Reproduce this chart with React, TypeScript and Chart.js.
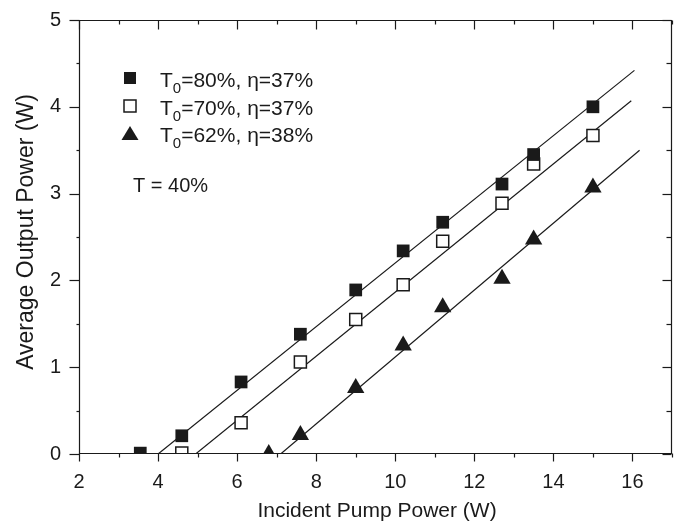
import React, { useEffect, useRef } from 'react';
import { Chart, registerables } from 'chart.js';

Chart.register(...registerables);

// ---- Data ----
const pump80 = [3.55, 4.6, 6.1, 7.6, 9.0, 10.2, 11.2, 12.7, 13.5, 15.0];
const out80 = [0.01, 0.21, 0.83, 1.38, 1.89, 2.34, 2.67, 3.11, 3.45, 4.0];
const pump70 = [4.6, 6.1, 7.6, 9.0, 10.2, 11.2, 12.7, 13.5, 15.0];
const out70 = [0.01, 0.36, 1.06, 1.55, 1.95, 2.45, 2.89, 3.34, 3.67];
const pump62 = [6.8, 7.6, 9.0, 10.2, 11.2, 12.7, 13.5, 15.0];
const out62 = [0.0, 0.22, 0.76, 1.25, 1.69, 2.02, 2.47, 3.07];

const fit80X = [4.0, 16.05];
const fit80Y = [0, 4.42];
const fit70X = [4.95, 15.97];
const fit70Y = [0, 4.07];
const fit62X = [7.1, 16.18];
const fit62Y = [0, 3.5];

const legendT0 = ['80%', '70%', '62%'];
const legendEta = ['37%', '37%', '38%'];
const noteText = 'T = 40%';
const xTitle = 'Incident Pump Power (W)';
const yTitle = 'Average Output Power (W)';
const xMin = 2;
const xMax = 17;
const yMin = 0;
const yMax = 5;

const FONT = '"Liberation Sans", Arial, Helvetica, sans-serif';
const INK = '#1a1a1a';

const toPts = (xs: number[], ys: number[]) => xs.map((x, i) => ({ x, y: ys[i] }));

const decorPlugin = {
  id: 'decor',
  afterDraw(chart: any) {
    const { ctx, chartArea: a, scales } = chart;
    const xs = scales.x;
    const ys = scales.y;
    ctx.save();
    ctx.strokeStyle = INK;
    ctx.lineWidth = 1.2;
    const L = Math.round(a.left) + 0.5;
    const R = Math.round(a.right) - 0.5;
    const T = Math.round(a.top) + 0.5;
    const B = Math.round(a.bottom) - 0.5;
    ctx.beginPath();
    ctx.rect(L, T, R - L, B - T);
    ctx.stroke();
    const seg = (x1: number, y1: number, x2: number, y2: number) => {
      ctx.beginPath();
      ctx.moveTo(x1, y1);
      ctx.lineTo(x2, y2);
      ctx.stroke();
    };
    for (let v = xMin; v <= xMax; v += 1) {
      const px = Math.round(xs.getPixelForValue(v)) + 0.5;
      const major = v % 2 === 0;
      seg(px, B, px, B + (major ? 8 : 4));
      seg(px, T, px, T + (major ? 9 : 4));
    }
    for (let v = yMin; v <= yMax + 1e-9; v += 0.5) {
      const py = Math.round(ys.getPixelForValue(v)) + 0.5;
      const major = Math.abs(v - Math.round(v)) < 1e-9;
      seg(L, py, L - (major ? 10 : 3), py);
      seg(R, py, R - (major ? 9 : 5), py);
    }

    // axis titles
    ctx.fillStyle = INK;
    ctx.font = `21px ${FONT}`;
    ctx.textAlign = 'center';
    ctx.textBaseline = 'alphabetic';
    ctx.fillText(xTitle, (a.left + a.right) / 2 + 1.5, 517);
    ctx.save();
    ctx.translate(33, 232);
    ctx.rotate(-Math.PI / 2);
    ctx.font = `23px ${FONT}`;
    ctx.fillText(yTitle, 0, 0);
    ctx.restore();

    // legend
    const mx = 130;
    const rows = [78, 106, 134];
    const baselines = [87, 115, 142];
    ctx.fillStyle = INK;
    ctx.fillRect(mx - 6, rows[0] - 6, 12, 12);
    ctx.fillStyle = '#fff';
    ctx.lineWidth = 1.5;
    ctx.fillRect(mx - 6, rows[1] - 6, 12, 12);
    ctx.strokeRect(mx - 6, rows[1] - 6, 12, 12);
    ctx.fillStyle = INK;
    ctx.beginPath();
    ctx.moveTo(mx, rows[2] - 8);
    ctx.lineTo(mx + 8.5, rows[2] + 6);
    ctx.lineTo(mx - 8.5, rows[2] + 6);
    ctx.closePath();
    ctx.fill();

    ctx.textAlign = 'left';
    for (let i = 0; i < 3; i++) {
      let x = 160;
      ctx.font = `21px ${FONT}`;
      ctx.fillText('T', x, baselines[i]);
      x += ctx.measureText('T').width;
      ctx.font = `15px ${FONT}`;
      ctx.fillText('0', x, baselines[i] + 6);
      x += ctx.measureText('0').width;
      ctx.font = `21px ${FONT}`;
      ctx.fillText(`=${legendT0[i]}, η=${legendEta[i]}`, x, baselines[i]);
    }
    ctx.font = `20px ${FONT}`;
    ctx.fillText(noteText, 133, 192);
    ctx.restore();
  },
};

export default function App() {
  const ref = useRef<HTMLCanvasElement>(null);
  useEffect(() => {
    document.body.style.margin = '0';
    const canvas = ref.current!;
    Chart.defaults.font.family = FONT;
    const chart = new Chart(canvas, {
      type: 'scatter',
      data: {
        datasets: [
          {
            label: 'T0=80%',
            data: toPts(pump80, out80),
            pointStyle: 'rect',
            pointRadius: 9,
            pointBackgroundColor: INK,
            pointBorderColor: INK,
            pointBorderWidth: 0,
            showLine: false,
            clip: 0,
            order: 1,
          },
          {
            label: 'T0=70%',
            data: toPts(pump70, out70),
            pointStyle: 'rect',
            pointRadius: 8.5,
            pointBackgroundColor: '#ffffff',
            pointBorderColor: INK,
            pointBorderWidth: 1.5,
            showLine: false,
            clip: 0,
            order: 1,
          },
          {
            label: 'T0=62%',
            data: toPts(pump62, out62),
            pointStyle: 'triangle',
            pointRadius: 10,
            pointBackgroundColor: INK,
            pointBorderColor: INK,
            pointBorderWidth: 0,
            showLine: false,
            clip: 0,
            order: 1,
          },
          {
            label: 'fit80',
            data: toPts(fit80X, fit80Y),
            showLine: true,
            pointRadius: 0,
            borderColor: INK,
            borderWidth: 1.2,
            clip: 0,
            order: 2,
          },
          {
            label: 'fit70',
            data: toPts(fit70X, fit70Y),
            showLine: true,
            pointRadius: 0,
            borderColor: INK,
            borderWidth: 1.2,
            clip: 0,
            order: 2,
          },
          {
            label: 'fit62',
            data: toPts(fit62X, fit62Y),
            showLine: true,
            pointRadius: 0,
            borderColor: INK,
            borderWidth: 1.2,
            clip: 0,
            order: 2,
          },
        ],
      },
      options: {
        animation: false,
        responsive: false,
        maintainAspectRatio: false,
        devicePixelRatio: 1,
        layout: { padding: { top: 17, right: 7, left: 0, bottom: 0 }, autoPadding: false },
        plugins: { legend: { display: false }, tooltip: { enabled: false }, title: { display: false } },
        scales: {
          x: {
            type: 'linear',
            min: xMin,
            max: xMax,
            border: { display: false },
            grid: { display: true, drawOnChartArea: false, drawTicks: true, tickLength: 8, color: 'rgba(0,0,0,0)' },
            ticks: {
              stepSize: 2,
              includeBounds: false,
              padding: 8,
              color: INK,
              font: { size: 20, family: FONT },
              maxRotation: 0,
              autoSkip: false,
            },
            afterFit: (s: any) => {
              s.height = 67;
            },
          },
          y: {
            type: 'linear',
            min: yMin,
            max: yMax,
            border: { display: false },
            grid: { display: true, drawOnChartArea: false, drawTicks: true, tickLength: 10, color: 'rgba(0,0,0,0)' },
            ticks: {
              stepSize: 1,
              padding: 8,
              color: INK,
              font: { size: 20, family: FONT },
              autoSkip: false,
            },
            afterFit: (s: any) => {
              s.width = 79;
            },
          },
        },
      },
      plugins: [decorPlugin],
    });
    return () => chart.destroy();
  }, []);
  return <canvas ref={ref} width={679} height={521} style={{ display: 'block', width: 679, height: 521 }} />;
}
